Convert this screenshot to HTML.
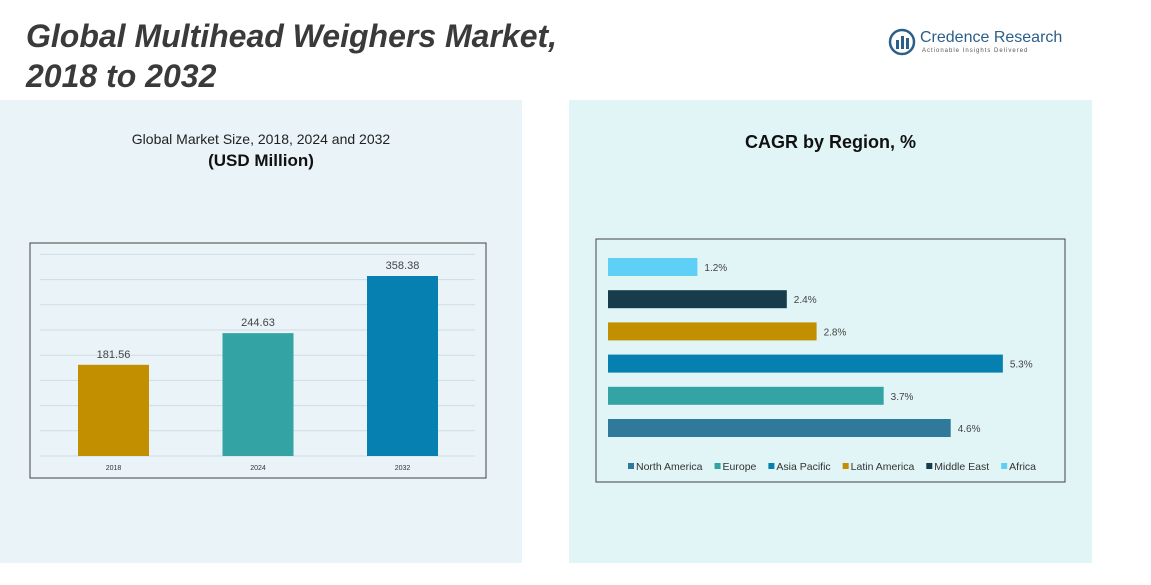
<!DOCTYPE html>
<html><head><meta charset="utf-8"><style>
body{margin:0;width:1151px;height:585px;background:#fff;font-family:"Liberation Sans",sans-serif;position:relative;overflow:hidden}
.abs{position:absolute}
</style></head><body>
<div class="abs" style="left:0;top:100px;width:522px;height:463px;background:#e9f3f8"></div>
<div class="abs" style="left:569px;top:100px;width:523px;height:463px;background:#e1f4f6"></div>
<div class="abs" style="left:26px;top:16px;font-size:32px;font-weight:bold;font-style:italic;color:#3a3a3a;line-height:40px;white-space:nowrap">Global Multihead Weighers Market,<br>2018 to 2032</div>
<div class="abs" style="left:888px;top:28px;width:200px;height:30px;white-space:nowrap">
<svg width="28" height="28" style="position:absolute;left:0;top:0"><circle cx="14" cy="14" r="12" fill="none" stroke="#2a5f8a" stroke-width="2.5"/><rect x="8" y="12" width="3" height="9" fill="#2a5f8a"/><rect x="13" y="8" width="3" height="13" fill="#2a5f8a"/><rect x="18" y="10" width="3" height="11" fill="#2a5f8a"/></svg>
<div style="position:absolute;left:32px;top:1px;font-size:16px;color:#2a5f8a;white-space:nowrap">Credence Research</div>
<div style="position:absolute;left:34px;top:20px;font-size:6px;color:#555;letter-spacing:1px;white-space:nowrap">Actionable Insights Delivered</div></div>
<div class="abs" style="left:0;width:522px;top:131px;text-align:center;font-size:14px;color:#222">Global Market Size, 2018, 2024 and 2032</div>
<div class="abs" style="left:0;width:522px;top:151px;text-align:center;font-size:17px;font-weight:bold;color:#111">(USD Million)</div>
<div class="abs" style="left:569px;width:523px;top:132px;text-align:center;font-size:18px;font-weight:bold;color:#111">CAGR by Region, %</div>
<svg class="abs" style="left:0;top:0" width="1151" height="585" id="svg"></svg>
<script>
const years=["2018","2024","2032"];
const sizes=[181.56,244.63,358.38];
const barColors=["#c18f00","#33a3a3","#0580b0"];
const regions=["Africa","Middle East","Latin America","Asia Pacific","Europe","North America"];
const cagr=[1.2,2.4,2.8,5.3,3.7,4.6];
const regionColors=["#5fd0f5","#173c4b","#c18f00","#0580b0","#33a3a3","#2f7a9a"];
const legendOrder=["North America","Europe","Asia Pacific","Latin America","Middle East","Africa"];
const legendColors=["#2f7a9a","#33a3a3","#0580b0","#c18f00","#173c4b","#5fd0f5"];
const s=document.getElementById('svg');const NS="http://www.w3.org/2000/svg";
function mk(t,a,txt){const e=document.createElementNS(NS,t);for(const k in a)e.setAttribute(k,a[k]);if(txt!==undefined)e.textContent=txt;s.appendChild(e);return e;}
let e=mk('rect',{x:30,y:243,width:456,height:235,fill:'none',stroke:'#444','stroke-width':1});


const base=456,yS=v=>base-v*180/358.38;
for(let i=0;i<9;i++){e=mk('line',{x1:40,x2:475,y1:base-i*25.2,y2:base-i*25.2,stroke:'#cfdde3','stroke-width':1});

}
const xC=i=>113.5+i*144.5;
years.forEach((y,i)=>{
e=mk('rect',{x:xC(i)-35.5,y:yS(sizes[i]),width:71,height:base-yS(sizes[i]),fill:barColors[i]});


e=mk('text',{x:xC(i),y:yS(sizes[i])-7,'text-anchor':'middle','font-size':11,fill:'#444'},sizes[i].toFixed(2));


e=mk('text',{x:xC(i),y:470,'text-anchor':'middle','font-size':7,fill:'#333'},y);


});
e=mk('rect',{x:596,y:239,width:469,height:243,fill:'none',stroke:'#444','stroke-width':1});


const x0=608,xS=v=>x0+v*74.5;
regions.forEach((r,i)=>{const yc=267+i*32.2;
e=mk('rect',{x:x0,y:yc-9,width:xS(cagr[i])-x0,height:18,fill:regionColors[i]});


e=mk('text',{x:xS(cagr[i])+7,y:yc+4,'font-size':10,fill:'#444'},cagr[i].toFixed(1)+'%');


});
let lx=628;
legendOrder.forEach((r,i)=>{
e=mk('rect',{x:lx,y:463,width:6,height:6,fill:legendColors[i]});


const t=mk('text',{x:lx+8,y:470,'font-size':10.5,fill:'#333'},r);


lx+=8+t.getComputedTextLength()+12;
});
</script>
</body></html>
